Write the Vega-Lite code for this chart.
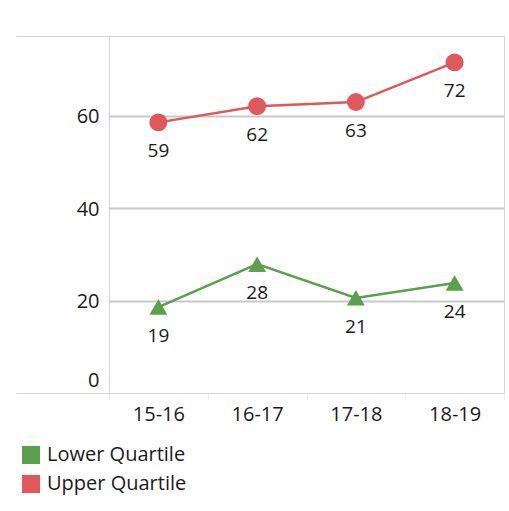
{
  "$schema": "https://vega.github.io/schema/vega-lite/v6.json",
  "autosize": {"type": "none"},
  "padding": {"left": 109, "top": 36, "right": 5, "bottom": 118},
  "width": 395,
  "height": 357,
  "background": "white",
  "config": {
    "font": "Open Sans",
    "view": {"stroke": "#d4d4d4", "strokeWidth": 1}
  },
  "data": {
    "values": [
      {"period": "15-16", "series": "Lower Quartile", "value": 18.6},
      {"period": "16-17", "series": "Lower Quartile", "value": 27.9},
      {"period": "17-18", "series": "Lower Quartile", "value": 20.6},
      {"period": "18-19", "series": "Lower Quartile", "value": 23.8},
      {"period": "15-16", "series": "Upper Quartile", "value": 58.6},
      {"period": "16-17", "series": "Upper Quartile", "value": 62.1},
      {"period": "17-18", "series": "Upper Quartile", "value": 63.0},
      {"period": "18-19", "series": "Upper Quartile", "value": 71.6}
    ]
  },
  "encoding": {
    "x": {
      "field": "period",
      "type": "ordinal",
      "bandPosition": 0.5,
      "scale": {"type": "band", "paddingInner": 0, "paddingOuter": 0},
      "axis": {
        "title": null,
        "labelAngle": 0,
        "labelFontSize": 20,
        "labelColor": "#1a1a1a",
        "labelPadding": 4,
        "domain": false,
        "ticks": true,
        "tickBand": "extent",
        "tickSize": 7,
        "tickColor": "#ececec",
        "grid": false
      }
    },
    "y": {
      "field": "value",
      "type": "quantitative",
      "scale": {"domain": [0, 77.3], "nice": false, "zero": true},
      "axis": {
        "title": null,
        "values": [0, 20, 40, 60, 77.3],
        "labelExpr": "datum.value > 70 ? '' : datum.label",
        "labelFontSize": 20,
        "labelColor": "#1a1a1a",
        "domain": false,
        "ticks": true,
        "tickSize": 93,
        "tickColor": {"condition": {"test": "datum.value === 0 || datum.value > 70", "value": "#d4d4d4"}, "value": "transparent"},
        "labelPadding": -83,
        "labelOffset": {"condition": {"test": "datum.value === 0", "value": -13}, "value": 1},
        "grid": true,
        "gridColor": {"condition": {"test": "datum.value === 0 || datum.value > 70", "value": "transparent"}, "value": "#c8c8c8"},
        "gridWidth": 2
      }
    },
    "color": {
      "field": "series",
      "type": "nominal",
      "scale": {"domain": ["Lower Quartile", "Upper Quartile"], "range": ["#5BA04E", "#E0575C"]},
      "legend": {
        "title": null,
        "orient": "none",
        "legendX": -88,
        "legendY": 409,
        "symbolType": "square",
        "symbolSize": 324,
        "symbolStrokeWidth": 0,
        "symbolOpacity": 1,
        "labelFontSize": 20,
        "labelColor": "#1a1a1a",
        "labelOffset": 6,
        "rowPadding": 9,
        "encode": {"symbols": {"update": {"shape": {"value": "square"}}}}
      }
    }
  },
  "layer": [
    {
      "mark": {"type": "line", "strokeWidth": 2.5}
    },
    {
      "transform": [{"filter": "datum.series === 'Lower Quartile'"}],
      "mark": {"type": "point", "filled": true, "opacity": 1, "size": 320, "shape": "triangle-up"}
    },
    {
      "transform": [{"filter": "datum.series === 'Upper Quartile'"}],
      "mark": {"type": "point", "filled": true, "opacity": 1, "size": 320, "shape": "circle"}
    },
    {
      "mark": {"type": "text", "dy": 29, "fontSize": 19, "baseline": "middle"},
      "encoding": {
        "text": {"field": "value", "type": "quantitative", "format": ".0f"},
        "color": {"value": "#1a1a1a"}
      }
    }
  ]
}
